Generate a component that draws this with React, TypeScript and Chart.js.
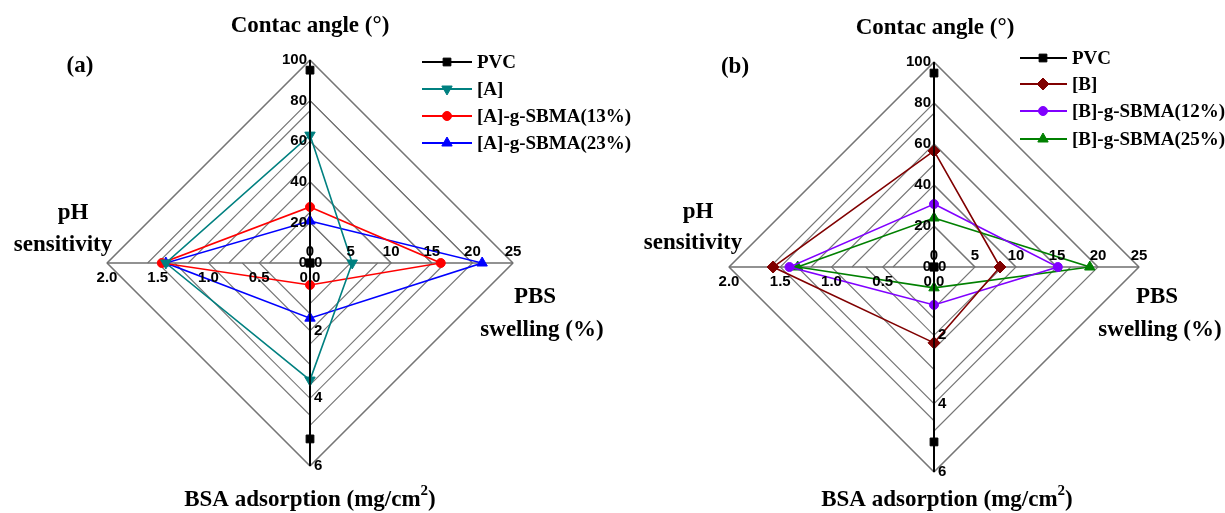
import React, { useEffect, useRef } from 'react';
import { Chart, registerables } from 'chart.js';
import { drawPoint } from 'chart.js/helpers';

Chart.register(...registerables);

// ---- axes (clockwise from top) ----
const axisNames = ['Contac angle (°)', 'PBS swelling (%)', 'BSA adsorption (mg/cm2)', 'pH sensitivity'];
const axisMax = [100, 25, 6, 2];
const contactTicks = [0, 20, 40, 60, 80, 100];
const pbsTicks = [0, 5, 10, 15, 20, 25];
const bsaTicks = [0, 2, 4, 6];
const phTicks = [0, 0.5, 1.0, 1.5, 2.0];
const phTickLabels = ['0.0', '0.5', '1.0', '1.5', '2.0'];

// ---- panel (a) series: [contact angle, PBS swelling, BSA adsorption, pH sensitivity] ----
const seriesNamesA = ['PVC', '[A]', '[A]-g-SBMA(13%)', '[A]-g-SBMA(23%)'];
const pvcA = [95, 0, 5.2, 0];
const aVals = [63, 5.2, 3.46, 1.42];
const a13Vals = [27.6, 16.1, 0.65, 1.46];
const a23Vals = [20.7, 21.2, 1.63, 1.42];

// ---- panel (b) series ----
const seriesNamesB = ['PVC', '[B]', '[B]-g-SBMA(12%)', '[B]-g-SBMA(25%)'];
const pvcB = [94.6, 0, 5.12, 0];
const bVals = [56.6, 8.05, 2.22, 1.57];
const b12Vals = [30.7, 15.1, 1.11, 1.41];
const b25Vals = [23.9, 19.0, 0.61, 1.33];

const W = 1225;
const H = 513;
const TICK_FONT = "bold 15px 'Liberation Sans', Arial, sans-serif";
const TITLE_FONT = "bold 23px 'Liberation Serif', 'Times New Roman', serif";
const SUP_FONT = "bold 15px 'Liberation Serif', 'Times New Roman', serif";
const LEGEND_FONT = "bold 19px 'Liberation Serif', 'Times New Roman', serif";

type Style = { color: string; pointStyle: string; rotation: number; radius: number };

const stylesA: Style[] = [
  { color: '#000000', pointStyle: 'rect', rotation: 0, radius: 5.5 },
  { color: '#008080', pointStyle: 'triangle', rotation: 180, radius: 6 },
  { color: '#ff0000', pointStyle: 'circle', rotation: 0, radius: 4.5 },
  { color: '#0000ff', pointStyle: 'triangle', rotation: 0, radius: 6 },
];
const stylesB: Style[] = [
  { color: '#000000', pointStyle: 'rect', rotation: 0, radius: 5.5 },
  { color: '#800000', pointStyle: 'rectRot', rotation: 0, radius: 6 },
  { color: '#8000ff', pointStyle: 'circle', rotation: 0, radius: 4.5 },
  { color: '#008000', pointStyle: 'triangle', rotation: 0, radius: 6 },
];

type Panel = {
  id: string;
  letter: string;
  letterPos: [number, number];
  padding: { left: number; right: number; top: number; bottom: number };
  names: string[];
  values: number[][];
  styles: Style[];
  legend: { x0: number; x1: number; xm: number; xt: number; ys: number[] };
  titles: {
    contact: [number, number];
    ph: [number, number];
    sens: [number, number];
    pbs: [number, number];
    swell: [number, number];
    bsa: [number, number];
  };
};

const panelA: Panel = {
  id: 'a',
  letter: '(a)',
  letterPos: [80, 66],
  padding: { left: 107, right: W - 513, top: 60, bottom: H - 466 },
  names: seriesNamesA,
  values: [pvcA, aVals, a13Vals, a23Vals],
  styles: stylesA,
  legend: { x0: 422, x1: 472, xm: 447, xt: 477, ys: [62, 89, 116, 143] },
  titles: {
    contact: [310, 26],
    ph: [73, 213],
    sens: [63, 245],
    pbs: [535, 297],
    swell: [542, 330],
    bsa: [310, 500],
  },
};

const panelB: Panel = {
  id: 'b',
  letter: '(b)',
  letterPos: [735, 67],
  padding: { left: 729, right: W - 1139, top: 62, bottom: H - 472 },
  names: seriesNamesB,
  values: [pvcB, bVals, b12Vals, b25Vals],
  styles: stylesB,
  legend: { x0: 1020, x1: 1067, xm: 1043, xt: 1072, ys: [58, 84, 111, 139] },
  titles: {
    contact: [935, 28],
    ph: [698, 212],
    sens: [693, 243],
    pbs: [1157, 297],
    swell: [1160, 330],
    bsa: [947, 500],
  },
};

const tickSets = [
  { ticks: contactTicks, labels: contactTicks.map(String) },
  { ticks: pbsTicks, labels: pbsTicks.map(String) },
  { ticks: bsaTicks, labels: bsaTicks.map(String) },
  { ticks: phTicks, labels: phTickLabels },
];

function makeDecor(panel: Panel) {
  return {
    id: 'decor_' + panel.id,
    beforeDatasetsDraw(chart: any) {
      const s = chart.scales.r;
      const ctx: CanvasRenderingContext2D = chart.ctx;
      const P = (i: number, f: number) => s.getPointPositionForValue(((i % 4) + 4) % 4, f);
      ctx.save();
      // Origin-style grid: each axis' ticks joined to the two neighbouring axes
      ctx.strokeStyle = '#767676';
      ctx.lineWidth = 1.1;
      for (let k = 0; k < 4; k++) {
        const n = tickSets[k].ticks.length - 1;
        for (let j = 1; j <= n; j++) {
          const f = tickSets[k].ticks[j] / axisMax[k];
          const a = P(k - 1, f);
          const b = P(k, f);
          const c = P(k + 1, f);
          ctx.beginPath();
          ctx.moveTo(a.x, a.y);
          ctx.lineTo(b.x, b.y);
          ctx.lineTo(c.x, c.y);
          ctx.stroke();
        }
      }
      // horizontal axis (pH <-> PBS)
      const l = P(3, 1);
      const r = P(1, 1);
      ctx.strokeStyle = '#6e6e6e';
      ctx.lineWidth = 1.5;
      ctx.beginPath();
      ctx.moveTo(l.x, l.y);
      ctx.lineTo(r.x, r.y);
      ctx.stroke();
      // vertical axis (contact angle <-> BSA)
      const t = P(0, 1);
      const btm = P(2, 1);
      ctx.strokeStyle = '#000';
      ctx.lineWidth = 2;
      ctx.beginPath();
      ctx.moveTo(t.x, t.y);
      ctx.lineTo(btm.x, btm.y);
      ctx.stroke();
      ctx.restore();
    },
    afterDraw(chart: any) {
      const s = chart.scales.r;
      const ctx: CanvasRenderingContext2D = chart.ctx;
      const P = (i: number, f: number) => s.getPointPositionForValue(i, f);
      ctx.save();
      ctx.fillStyle = '#000';
      ctx.font = TICK_FONT;
      ctx.textBaseline = 'middle';
      // contact angle ticks: left of the vertical axis
      tickSets[0].ticks.forEach((v, j) => {
        const p = P(0, v / axisMax[0]);
        ctx.textAlign = 'right';
        ctx.fillText(tickSets[0].labels[j], p.x - 3, p.y);
      });
      // PBS ticks: above the horizontal axis
      tickSets[1].ticks.forEach((v, j) => {
        const p = P(1, v / axisMax[1]);
        ctx.textAlign = 'center';
        ctx.fillText(tickSets[1].labels[j], p.x, p.y - 11);
      });
      // BSA ticks: right of vertical axis
      tickSets[2].ticks.forEach((v, j) => {
        const p = P(2, v / axisMax[2]);
        ctx.textAlign = 'left';
        ctx.fillText(tickSets[2].labels[j], p.x + 4, p.y);
      });
      // pH ticks: below horizontal axis
      tickSets[3].ticks.forEach((v, j) => {
        const p = P(3, v / axisMax[3]);
        ctx.textAlign = 'center';
        ctx.fillText(tickSets[3].labels[j], p.x, p.y + 15);
      });

      // titles
      ctx.font = TITLE_FONT;
      ctx.textAlign = 'center';
      const T = panel.titles;
      ctx.fillText('Contac angle (°)', T.contact[0], T.contact[1]);
      ctx.fillText('pH', T.ph[0], T.ph[1]);
      ctx.fillText('sensitivity', T.sens[0], T.sens[1]);
      ctx.fillText('PBS', T.pbs[0], T.pbs[1]);
      ctx.fillText('swelling (%)', T.swell[0], T.swell[1]);
      // BSA title with superscript
      const main = 'BSA adsorption (mg/cm';
      const wMain = ctx.measureText(main).width;
      const wClose = ctx.measureText(')').width;
      ctx.font = SUP_FONT;
      const wSup = ctx.measureText('2').width;
      const total = wMain + wSup + wClose;
      let x = T.bsa[0] - total / 2;
      ctx.textAlign = 'left';
      ctx.font = TITLE_FONT;
      ctx.fillText(main, x, T.bsa[1]);
      x += wMain;
      ctx.font = SUP_FONT;
      ctx.fillText('2', x, T.bsa[1] - 9);
      x += wSup;
      ctx.font = TITLE_FONT;
      ctx.fillText(')', x, T.bsa[1]);

      ctx.textAlign = 'center';
      ctx.fillText(panel.letter, panel.letterPos[0], panel.letterPos[1]);

      // legend
      const L = panel.legend;
      panel.names.forEach((name, i) => {
        const st = panel.styles[i];
        const y = L.ys[i];
        ctx.strokeStyle = st.color;
        ctx.fillStyle = st.color;
        ctx.lineWidth = 2;
        ctx.beginPath();
        ctx.moveTo(L.x0, y);
        ctx.lineTo(L.x1, y);
        ctx.stroke();
        ctx.lineWidth = 1;
        drawPoint(ctx, { pointStyle: st.pointStyle as any, rotation: st.rotation, radius: st.radius, borderWidth: 1 } as any, L.xm, y);
        ctx.fillStyle = '#000';
        ctx.font = LEGEND_FONT;
        ctx.textAlign = 'left';
        ctx.textBaseline = 'middle';
        ctx.fillText(name, L.xt, y + 1);
      });
      ctx.restore();
    },
  };
}

function RadarPanel({ panel }: { panel: Panel }) {
  const ref = useRef<HTMLCanvasElement | null>(null);
  useEffect(() => {
    if (!ref.current) return;
    const datasets = panel.values.map((vals, i) => {
      const st = panel.styles[i];
      return {
        label: panel.names[i],
        data: vals.map((v, k) => v / axisMax[k]),
        borderColor: st.color,
        backgroundColor: st.color,
        pointBackgroundColor: st.color,
        pointBorderColor: st.color,
        pointStyle: st.pointStyle,
        rotation: st.rotation,
        pointRadius: st.radius,
        pointBorderWidth: 1,
        borderWidth: 1.6,
        fill: false,
        tension: 0,
      };
    });
    const chart = new Chart(ref.current, {
      type: 'radar',
      data: { labels: axisNames, datasets: datasets as any },
      options: {
        responsive: false,
        animation: false,
        events: [],
        layout: { padding: panel.padding },
        plugins: { legend: { display: false }, tooltip: { enabled: false } },
        scales: {
          r: {
            min: 0,
            max: 1,
            ticks: { display: false, stepSize: 0.2 },
            grid: { display: false },
            angleLines: { display: false },
            pointLabels: { display: false },
          },
        },
      } as any,
      plugins: [makeDecor(panel)],
    });
    return () => chart.destroy();
  }, [panel]);
  return (
    <canvas
      ref={ref}
      width={W}
      height={H}
      style={{ position: 'absolute', left: 0, top: 0, width: W, height: H }}
    />
  );
}

export default function App() {
  return (
    <div style={{ position: 'absolute', left: 0, top: 0, width: W, height: H, background: '#fff', overflow: 'hidden' }}>
      <RadarPanel panel={panelA} />
      <RadarPanel panel={panelB} />
    </div>
  );
}
